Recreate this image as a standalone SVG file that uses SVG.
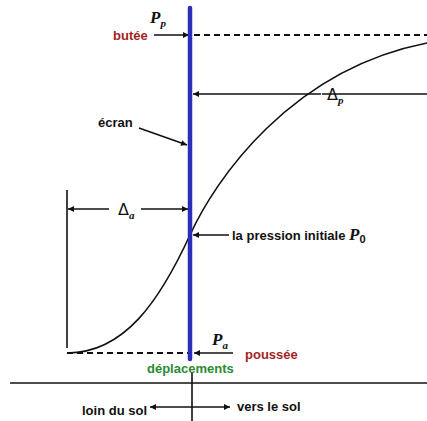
<svg xmlns="http://www.w3.org/2000/svg" width="427" height="421" viewBox="0 0 427 421">
<defs>
<style>
.t{font-family:"Liberation Sans",Arial,sans-serif;font-weight:bold;font-size:13px;fill:#111}
.red{fill:#a31f24}
.grn{fill:#2a8a32}
.P{font-family:"Liberation Serif","Times New Roman",serif;font-weight:bold;font-style:italic;font-size:17px;fill:#111}
.sub{font-family:"Liberation Serif","Times New Roman",serif;font-style:italic;font-weight:bold;font-size:11px}
.sub0{font-family:"Liberation Sans",Arial,sans-serif;font-style:normal;font-weight:bold;font-size:11px}
.D{font-family:"DejaVu Sans","Liberation Sans",sans-serif;font-size:16px;fill:#111}
.ln{stroke:#111;stroke-width:1.6;fill:none}
.ar{stroke:#111;stroke-width:1.6;fill:none;marker-end:url(#ah)}
.dash{stroke:#111;stroke-width:1.8;fill:none;stroke-dasharray:6 4}
</style>
<marker id="ah" viewBox="0 0 10 10" refX="10" refY="5" markerWidth="8" markerHeight="6" markerUnits="userSpaceOnUse" orient="auto">
<path d="M0,0 L10,5 L0,10 z" fill="#111"/>
</marker>
</defs>
<rect width="427" height="421" fill="#fff"/>
<g id="connectors">
<line class="dash" x1="194" y1="35" x2="427" y2="35"/>
<line class="ar" x1="154" y1="35" x2="189" y2="35"/>
<line class="ln" x1="322" y1="94" x2="427" y2="94"/>
<line class="ar" x1="321" y1="94" x2="193" y2="94"/>
<line class="ar" x1="139" y1="128" x2="187" y2="145"/>
<line class="ln" x1="67" y1="190" x2="67" y2="348"/>
<line class="ar" x1="109" y1="209" x2="68" y2="209"/>
<line class="ar" x1="141" y1="209" x2="188" y2="209"/>
<line class="ar" x1="229" y1="235" x2="193" y2="235"/>
<path class="ln" stroke-width="2" d="M67,353 C125,353 160,300 190,235 C215,180 290,70 427,43"/>
<line class="dash" x1="67" y1="353" x2="190" y2="353"/>
<line class="ar" x1="233" y1="353" x2="194" y2="353"/>
<line class="ln" stroke-width="2.2" x1="10" y1="383" x2="427" y2="383"/>
<line class="ln" stroke-width="1.8" x1="192" y1="372" x2="192" y2="421"/>
<line class="ar" x1="192" y1="407" x2="150" y2="407"/>
<line class="ar" x1="192" y1="407" x2="230" y2="407"/>
</g>
<g id="ecran">
<line x1="190" y1="8" x2="190" y2="359" stroke="#2b2fb8" stroke-width="4.5" stroke-linecap="round"/>
<text class="t" x="98" y="127">écran</text>
</g>
<g id="butee">
<text class="P" x="150" y="23">P<tspan class="sub" dy="4">p</tspan></text>
<text class="t red" x="113" y="40">butée</text>
</g>
<g id="delta-p">
<text class="D" x="327" y="100">Δ<tspan class="sub" dy="4">p</tspan></text>
</g>
<g id="delta-a">
<text class="D" x="118" y="215">Δ<tspan class="sub" dy="4">a</tspan></text>
</g>
<g id="p0">
<text class="t" x="232" y="240">la pression initiale <tspan class="P">P</tspan><tspan class="sub0" dy="3">0</tspan></text>
</g>
<g id="poussee">
<text class="P" x="212" y="345">P<tspan class="sub" dy="4">a</tspan></text>
<text class="t red" x="245" y="359">poussée</text>
</g>
<g id="axis">
<text class="t grn" x="147" y="373">déplacements</text>
<text class="t" x="82" y="415">loin du sol</text>
<text class="t" x="237" y="411">vers le sol</text>
</g>
</svg>
